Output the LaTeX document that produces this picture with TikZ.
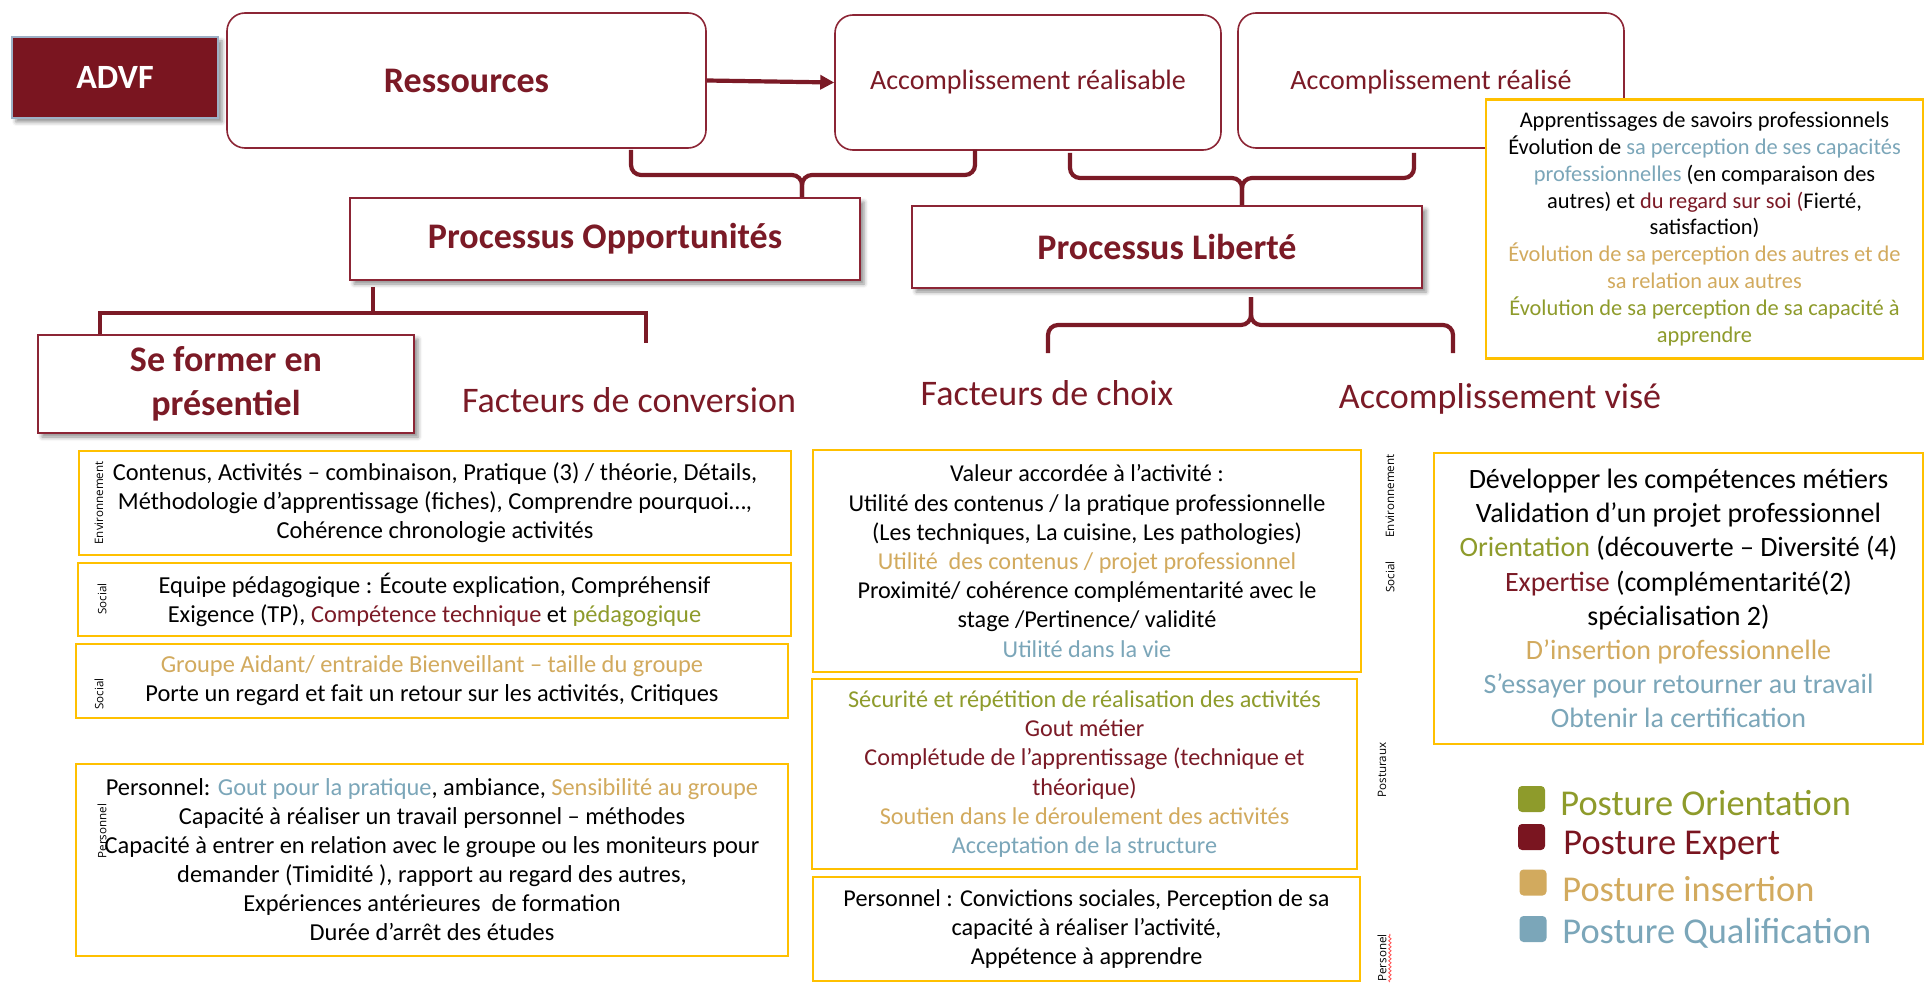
\documentclass[tikz,border=0pt]{standalone}
\usepackage{fontspec}
\setmainfont{Carlito}
\newfontfamily\lblfont{Open Sans}
\usetikzlibrary{arrows.meta,shadows.blur,decorations.pathmorphing,calc}
\definecolor{dred}{HTML}{7B1A26}
\definecolor{advfc}{HTML}{7A1520}
\definecolor{bord}{HTML}{8C2535}
\definecolor{olive}{HTML}{8E9B2B}
\definecolor{ptan}{HTML}{D2AA5E}
\definecolor{pblue}{HTML}{7BA6B9}
\definecolor{ybord}{HTML}{FFC000}
\definecolor{advfb}{HTML}{9DB0C6}
\begin{document}
\begin{tikzpicture}[x=0.5pt,y=-0.5pt,
  rbox/.style={draw=bord, line width=0.8pt, rounded corners=9pt, fill=white, inner sep=0pt},
  sbox/.style={draw=bord, line width=0.8pt, fill=white, inner sep=0pt,
    blur shadow={shadow xshift=2pt, shadow yshift=-2pt, shadow blur radius=2pt, shadow opacity=45}},
  ybox/.style={draw=ybord, line width=1.1pt, fill=white, align=center, inner sep=0pt},
  body/.style={font=\fontsize{12.1}{14.6}\selectfont},
  lbody/.style={font=\fontsize{12.2}{14.5}\selectfont},
  brc/.style={draw=dred, line width=2.1pt, rounded corners=5pt},
  sqb/.style={draw=dred, line width=2.1pt},
  arr/.style={draw=dred, line width=2.1pt, -{Triangle[length=7pt,width=7pt]}},
  side/.style={rotate=90, font=\lblfont\fontsize{5.8}{7}\selectfont, inner sep=0pt},
  title/.style={text=dred, font=\bfseries\fontsize{18}{22}\selectfont, align=center},
  head/.style={text=dred, font=\fontsize{18}{22}\selectfont, inner sep=0pt},
  legsq/.style={minimum width=13.5pt, minimum height=13pt, rounded corners=2pt, inner sep=0pt},
  legt/.style={anchor=west, font=\fontsize{18.2}{21}\selectfont, inner sep=0pt}]
\useasboundingbox (0,0) rectangle (1925,984);

% top row
\node[fill=advfc, draw=advfb, line width=0.6pt, minimum width=103pt, minimum height=40.5pt,
  text=white, font=\bfseries\fontsize{17}{20}\selectfont,
  blur shadow={shadow xshift=2pt, shadow yshift=-2pt, shadow blur radius=2pt, shadow opacity=45}]
  (advf) at (115,77.5) {ADVF};
\node[rbox, minimum width=239.5pt, minimum height=67.5pt, text=dred,
  font=\bfseries\fontsize{18}{22}\selectfont] (res) at (466.5,80.5) {Ressources};
\node[rbox, minimum width=193pt, minimum height=67.5pt, text=dred,
  font=\fontsize{14}{17}\selectfont] (accr) at (1028,82.5) {Accomplissement réalisable};
\node[rbox, minimum width=193pt, minimum height=67.5pt] (accd) at (1431,80.5) {};
\node[text=dred, font=\fontsize{14}{17}\selectfont, inner sep=0pt] (accdt) at (1431,82) {Accomplissement réalisé};
\draw[arr] (res.east) -- (accr.west);

% top-right yellow box
\node[ybox, minimum width=218.5pt, minimum height=129.5pt, font=\fontsize{11.2}{13.4}\selectfont]
  (tr) at (1704.5,229) {Apprentissages de savoirs professionnels\\
  Évolution de \textcolor{pblue}{sa perception de ses capacités}\\
  \textcolor{pblue}{professionnelles} (en comparaison des\\
  autres) et \textcolor{dred}{du regard sur soi (}Fierté,\\
  satisfaction)\\
  \textcolor{ptan}{Évolution de sa perception des autres et de}\\
  \textcolor{ptan}{sa relation aux autres}\\
  \textcolor{olive}{Évolution de sa perception de sa capacité à}\\
  \textcolor{olive}{apprendre}};

% process boxes
\node[sbox, title, minimum width=255pt, minimum height=41pt] (po) at (605,239) {Processus Opportunités};
\node[sbox, title, minimum width=255pt, minimum height=41pt] (pl) at (1167,247) {Processus Liberté};
\node[sbox, title, minimum width=188pt, minimum height=49pt] (sf) at (226,384) {Se former en\\présentiel};

% braces
\coordinate (b1l) at (631,150); \coordinate (b1r) at (975,150); \coordinate (b1c) at (802,175);
\draw[brc] (b1l) |- (b1c) -- (b1c |- po.north);
\draw[brc] (b1r) |- (b1c) -- (b1c |- po.north);
\coordinate (b2l) at (1070,153); \coordinate (b2r) at (1414,153); \coordinate (b2c) at (1242,178);
\draw[brc] (b2l) |- (b2c) -- (b2c |- pl.north);
\draw[brc] (b2r) |- (b2c) -- (b2c |- pl.north);
\coordinate (b3t) at (373,287); \coordinate (b3c) at (373,313);
\coordinate (b3l) at (100,313); \coordinate (b3r) at (646,313); \coordinate (b3e) at (646,343);
\draw[sqb] (b3t) -- (b3c);
\draw[sqb] (b3l |- sf.north) -- (b3l) -- (b3r) -- (b3e);
\coordinate (b4t) at (1251,297); \coordinate (b4c) at (1251,325);
\coordinate (b4l) at (1048,353); \coordinate (b4r) at (1453,353);
\draw[brc] (b4t) -- (b4c) -| (b4l);
\draw[brc] (b4t) -- (b4c) -| (b4r);

% headings
\node[head] (fconv) at (629,400) {Facteurs de conversion};
\node[head] (fchoix) at (1047,393) {Facteurs de choix};
\node[head] (avise) at (1500,399) {Accomplissement visé};

% left column
\node[ybox, lbody, minimum width=356pt, minimum height=52pt] (l1) at (435,503)
 {Contenus, Activités – combinaison, Pratique (3) / théorie, Détails,\\
  Méthodologie d’apprentissage (fiches), Comprendre pourquoi…,\\
  Cohérence chronologie activités};
\node[ybox, lbody, minimum width=356.5pt, minimum height=36.5pt] (l2) at (434.5,599.5)
 {Equipe pédagogique : Écoute explication, Compréhensif\\
  Exigence (TP), \textcolor{dred}{Compétence technique} et \textcolor{olive}{pédagogique}};
\node[ybox, lbody, minimum width=356pt, minimum height=37pt] (l3) at (432,681)
 {\textcolor{ptan}{Groupe Aidant/ entraide Bienveillant – taille du groupe}\\
  Porte un regard et fait un retour sur les activités, Critiques};
\node[ybox, lbody, minimum width=356pt, minimum height=96pt] (l4) at (432,860)
 {Personnel: \textcolor{pblue}{Gout pour la pratique}, ambiance, \textcolor{ptan}{Sensibilité au groupe}\\
  Capacité à réaliser un travail personnel – méthodes\\
  Capacité à entrer en relation avec le groupe ou les moniteurs pour\\
  demander (Timidité ), rapport au regard des autres,\\
  Expériences antérieures\ \ de formation\\
  Durée d’arrêt des études};
\node[side] (s1) at (99,503) {Environnement};
\node[side] (s2) at (102,599) {Social};
\node[side] (s3) at (99,694) {Social};
\node[side] (s4) at (102,831) {Personnel};

% middle column
\node[ybox, body, minimum width=274pt, minimum height=111pt] (ma) at (1087,561)
 {Valeur accordée à l’activité :\\
  Utilité des contenus / la pratique professionnelle\\
  (Les techniques, La cuisine, Les pathologies)\\
  \textcolor{ptan}{Utilité\ \ des contenus / projet professionnel}\\
  Proximité/ cohérence complémentarité avec le\\
  stage /Pertinence/ validité\\
  \textcolor{pblue}{Utilité dans la vie}};
\node[ybox, body, minimum width=272.5pt, minimum height=95pt] (mb) at (1084.5,774)
 {\textcolor{olive}{Sécurité et répétition de réalisation des activités}\\
  \textcolor{dred}{Gout métier}\\
  \textcolor{dred}{Complétude de l’apprentissage (technique et}\\
  \textcolor{dred}{théorique)}\\
  \textcolor{ptan}{Soutien dans le déroulement des activités}\\
  \textcolor{pblue}{Acceptation de la structure}};
\node[ybox, body, minimum width=273.5pt, minimum height=52pt] (mc) at (1086.5,929)
 {Personnel : Convictions sociales, Perception de sa\\
  capacité à réaliser l’activité,\\
  Appétence à apprendre};
\node[side] (s5) at (1390,496) {Environnement};
\node[side] (s6) at (1390,577) {Social};
\node[side] (s7) at (1382,770) {Posturaux};
\node[side] (s8) at (1382,958) {Personel};
\draw[red!70, line width=0.4pt, decorate, decoration={snake, amplitude=0.6pt, segment length=2pt}]
  ($(s8.south west)+(3,0)$) -- ($(s8.south east)+(3,0)$);

% right column
\node[ybox, font=\fontsize{14}{17.1}\selectfont, minimum width=244.5pt, minimum height=145.5pt] (rb) at (1678.5,598.5)
 {Développer les compétences métiers\\
  Validation d’un projet professionnel\\
  \textcolor{olive}{Orientation} (découverte – Diversité (4)\\
  \textcolor{dred}{Expertise} (complémentarité(2)\\
  spécialisation 2)\\
  \textcolor{ptan}{D’insertion professionnelle}\\
  \textcolor{pblue}{S’essayer pour retourner au travail}\\
  \textcolor{pblue}{Obtenir la certification}};

% legend
\node[legsq, fill=olive] (q1) at (1531.5,799) {};
\node[legsq, fill=advfc] (q2) at (1531.5,837) {};
\node[legsq, fill=ptan] (q3) at (1533,882.5) {};
\node[legsq, fill=pblue] (q4) at (1533,929) {};
\node[legt, text=olive] (t1) at (1560,803) {Posture Orientation};
\node[legt, text=advfc] (t2) at (1563,846) {Posture Expert};
\node[legt, text=ptan] (t3) at (1562,889) {Posture insertion};
\node[legt, text=pblue] (t4) at (1562,933) {Posture Qualification};
\end{tikzpicture}
\end{document}
